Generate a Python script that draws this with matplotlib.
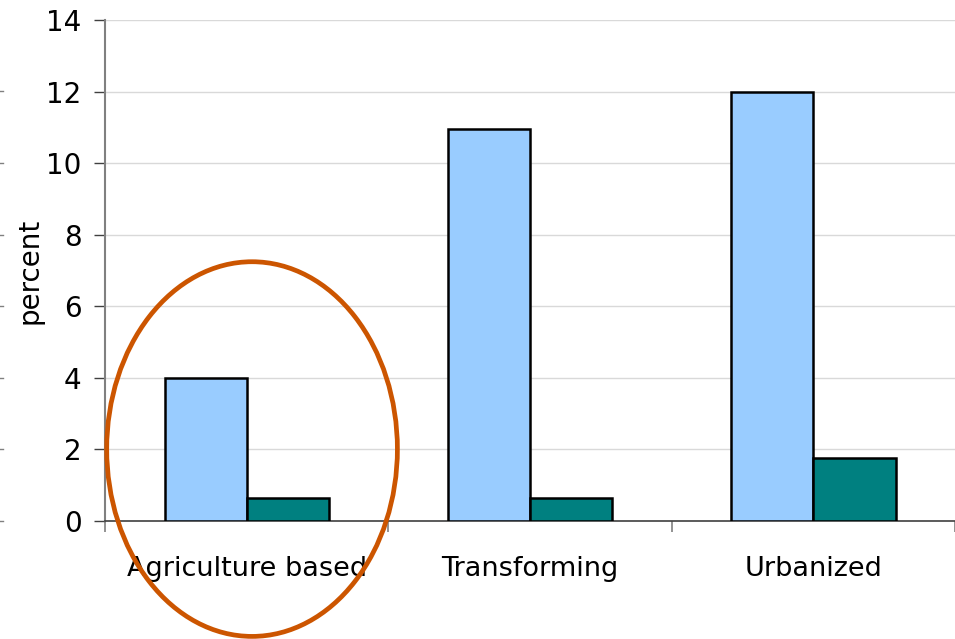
import numpy as np
import matplotlib.pyplot as plt
from matplotlib.patches import Ellipse
from matplotlib.lines import Line2D

categories = ['Agriculture based', 'Transforming', 'Urbanized']
series_a = [4.0, 10.95, 12.0]
series_b = [0.65, 0.65, 1.76]
yticks = [0, 2, 4, 6, 8, 10, 12, 14]

fig = plt.figure(figsize=(9.55, 6.39), dpi=100)
ax = fig.add_axes([105/955, 1-521/639, 1-105/955, (521-20)/639])

x = np.arange(len(categories)) + 0.5
w = 0.29
ax.bar(x - w/2, series_a, w, color='#99ccff', edgecolor='black', linewidth=1.8, zorder=3)
ax.bar(x + w/2, series_b, w, color='#008080', edgecolor='black', linewidth=1.8, zorder=3)

ax.set_xlim(0, 3)
ax.set_ylim(0, 14)
ax.set_yticks(yticks)
ax.set_yticklabels([str(t) for t in yticks], fontsize=20)
ax.set_xticks([0, 1, 2, 3])
ax.set_xticklabels([])
ax.set_xticks(x, minor=True)
ax.set_xticklabels(categories, minor=True, fontsize=19.5)
ax.tick_params(axis='x', which='minor', length=0, pad=25)
ax.tick_params(axis='x', which='major', length=8, color='#808080', width=1.2)
ax.tick_params(axis='y', length=8, color='#404040', width=1, pad=9)
ax.yaxis.grid(True, color='#d9d9d9', linewidth=1, zorder=0)
ax.set_axisbelow(True)
for s in ['top', 'right']:
    ax.spines[s].set_visible(False)
ax.spines['left'].set_color('#808080')
ax.spines['left'].set_linewidth(1.5)
ax.spines['bottom'].set_color('#404040')
ax.spines['bottom'].set_linewidth(1.2)
ax.set_ylabel('percent', fontsize=20, labelpad=2)

ell = Ellipse((0.519, 2.01), 1.026, 10.47, fill=False, edgecolor='#cc5500',
              linewidth=3.4, clip_on=False, zorder=5)
ax.add_patch(ell)

# stray tick marks along the left edge
for t in yticks[:-1]:
    yy = 1 - (521 - t * 35.8) / 639
    fig.add_artist(Line2D([0, 3/955], [yy, yy], color='#808080', linewidth=1))

fig.savefig('out.png', dpi=100)
